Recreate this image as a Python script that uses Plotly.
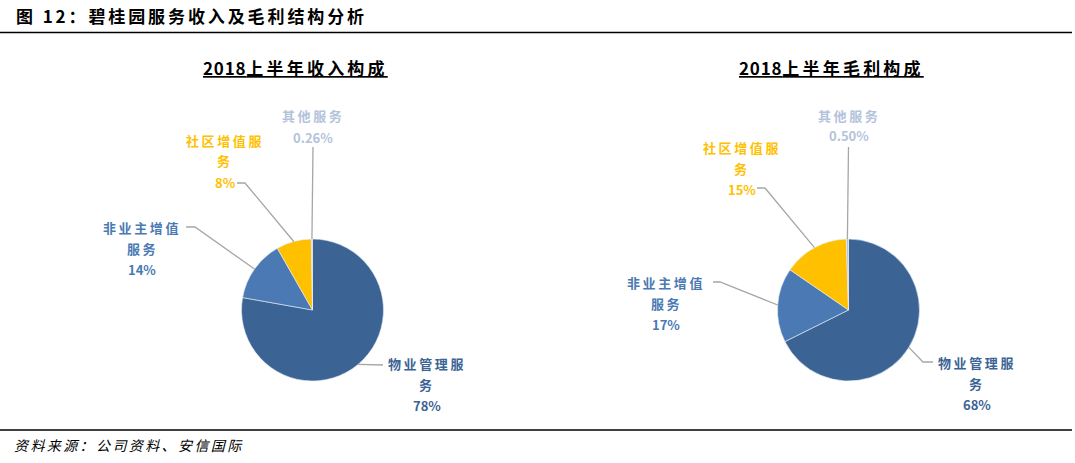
import math
import plotly.graph_objects as go

W, H = 1075, 463

# ---------------- data ----------------
categories = ["物业管理服务", "非业主增值服务", "社区增值服务", "其他服务"]
revenue_share = [78, 14, 8, 0.26]          # 2018上半年收入构成 (%)
profit_share = [68, 17, 15, 0.50]          # 2018上半年毛利构成 (%)
chart_titles = ["2018上半年收入构成", "2018上半年毛利构成"]
main_title = "图 12：碧桂园服务收入及毛利结构分析"
source_text = "资料来源：公司资料、安信国际"

# ---------------- styles ----------------
slice_colors = ["#3B6495", "#4A79B3", "#FFC000", "#B4C3DC"]
label_colors = ["#3B6495", "#4A79B3", "#FFC000", "#B4C3DC"]
wrap_at = [5, 5, 5, 4]
leader_color = "#A6A6A6"
CJK = "Noto Sans CJK SC"

# pie geometry (pixels): center x, center y, radius
pies = [
    dict(cx=312.5, cy=310, r=71),
    dict(cx=848.5, cy=310, r=71),
]
# label layout per pie / category: center x, first line y, leader elbow points
label_layout = [
    [
        dict(x=427, y=363, pts=[(383, 365)]),
        dict(x=142, y=227, pts=[(195, 227), (186, 227)]),
        dict(x=225, y=140, pts=[(245, 183), (237, 183)]),
        dict(x=313, y=116, pts=[(313, 147)]),
    ],
    [
        dict(x=977, y=362, pts=[(923, 362), (933, 362)]),
        dict(x=666, y=282, pts=[(720, 282), (713, 282)]),
        dict(x=742, y=147, pts=[(765, 188), (757, 188)]),
        dict(x=849, y=115, pts=[(848.5, 147)]),
    ],
]
line_gap = 21


def px(x):
    return x / W


def py(y):
    return 1 - y / H


def spaced(t, sp):
    return f"<span style='letter-spacing:{sp}px'>{t}</span>"


def fmt_pct(v):
    return f"{v:.2f}%" if v < 1 else f"{v:.0f}%"


fig = go.Figure()
annotations = []
shapes = []

for i, (vals, geo) in enumerate(zip([revenue_share, profit_share], pies)):
    cx, cy, r = geo["cx"], geo["cy"], geo["r"]
    fig.add_trace(go.Pie(
        labels=categories,
        values=vals,
        sort=False,
        direction="clockwise",
        rotation=0,
        textinfo="none",
        hoverinfo="label+percent",
        marker=dict(colors=slice_colors, line=dict(color="#E8EEF6", width=0.6)),
        domain=dict(x=[px(cx - r), px(cx + r)], y=[py(cy + r), py(cy - r)]),
        showlegend=False,
    ))
    # chart title: digits tight, CJK spaced
    t = chart_titles[i]
    annotations.append(dict(
        text="<b><u>" + spaced(t[:4], 0.8) + spaced(t[4:], 3.2) + "</u></b>",
        x=px(cx - 17), y=py(68), xref="paper", yref="paper",
        xanchor="center", yanchor="middle", showarrow=False,
        font=dict(family=CJK, size=17, color="#000000"),
    ))
    total = sum(vals)
    cum = 0
    for k, v in enumerate(vals):
        frac_mid = (cum + v / 2) / total
        cum += v
        th = 2 * math.pi * frac_mid
        ex = cx + r * math.sin(th)
        ey = cy - r * math.cos(th)
        lay = label_layout[i][k]
        pts = [(ex, ey)] + lay["pts"]
        path = "M " + " L ".join(f"{px(a)},{py(b)}" for a, b in pts)
        shapes.append(dict(type="path", path=path, xref="paper", yref="paper",
                           line=dict(color=leader_color, width=1.3)))
        name = categories[k]
        lines = [spaced(name[:wrap_at[k]], 2.6)]
        if len(name) > wrap_at[k]:
            lines.append(spaced(name[wrap_at[k]:], 2.6))
        lines.append(fmt_pct(v))
        for j, tx in enumerate(lines):
            annotations.append(dict(
                text="<b>" + tx + "</b>",
                x=px(lay["x"]), y=py(lay["y"] + j * line_gap),
                xref="paper", yref="paper", xanchor="center", yanchor="middle",
                showarrow=False,
                font=dict(family=CJK, size=13, color=label_colors[k]),
            ))

# main title
annotations.append(dict(
    text="<b>" + spaced(main_title, 2.9) + "</b>", x=px(14), y=py(16),
    xref="paper", yref="paper",
    xanchor="left", yanchor="middle", showarrow=False,
    font=dict(family=CJK, size=17, color="#000000"),
))
# source
annotations.append(dict(
    text="<i>" + spaced(source_text, 2.4) + "</i>", x=px(12), y=py(445),
    xref="paper", yref="paper",
    xanchor="left", yanchor="middle", showarrow=False,
    font=dict(family=CJK, size=14, color="#000000"),
))
shapes.append(dict(type="line", xref="paper", yref="paper", x0=0, x1=px(1072),
                   y0=py(32.5), y1=py(32.5), line=dict(color="#000000", width=1.5)))
shapes.append(dict(type="line", xref="paper", yref="paper", x0=0, x1=px(1072),
                   y0=py(430), y1=py(430), line=dict(color="#000000", width=1.5)))

fig.update_layout(
    width=W, height=H,
    margin=dict(l=0, r=0, t=0, b=0),
    paper_bgcolor="#FFFFFF", plot_bgcolor="#FFFFFF",
    annotations=annotations, shapes=shapes,
    font=dict(family=CJK),
)

fig.write_html("out.html", config={"displayModeBar": False},
               post_script="document.body.style.margin='0';")
